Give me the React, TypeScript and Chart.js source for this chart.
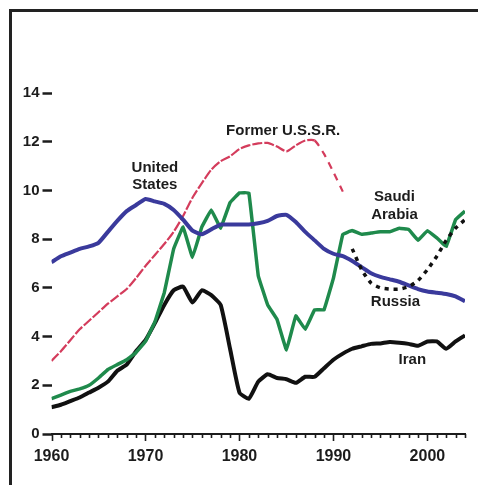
import React, { useEffect, useRef } from 'react';
import { Chart, registerables } from 'chart.js';

Chart.register(...registerables);

// ---- data ----
const years = [
  1960, 1961, 1962, 1963, 1964, 1965, 1966, 1967, 1968, 1969,
  1970, 1971, 1972, 1973, 1974, 1975, 1976, 1977, 1978, 1979,
  1980, 1981, 1982, 1983, 1984, 1985, 1986, 1987, 1988, 1989,
  1990, 1991, 1992, 1993, 1994, 1995, 1996, 1997, 1998, 1999,
  2000, 2001, 2002, 2003, 2004,
];

const unitedStates = [
  7.05, 7.3, 7.45, 7.6, 7.7, 7.85, 8.3, 8.75, 9.15, 9.4,
  9.65, 9.55, 9.45, 9.2, 8.8, 8.35, 8.2, 8.4, 8.6, 8.6,
  8.6, 8.6, 8.65, 8.75, 8.95, 9.0, 8.7, 8.3, 7.95, 7.6,
  7.4, 7.3, 7.1, 6.85, 6.6, 6.45, 6.35, 6.25, 6.1, 5.95,
  5.85, 5.8, 5.75, 5.65, 5.45,
];

// 1960-1991
const formerUSSR = [
  3.0, 3.4, 3.85, 4.3, 4.65, 5.0, 5.35, 5.65, 5.95, 6.4,
  6.9, 7.35, 7.8, 8.3, 8.95, 9.7, 10.3, 10.85, 11.2, 11.4,
  11.7, 11.85, 11.93, 11.95, 11.8, 11.6, 11.85, 12.05, 12.05, 11.5,
  10.75, 9.95,
];

const saudiArabia = [
  1.45, 1.6, 1.75, 1.85, 2.0, 2.3, 2.65, 2.85, 3.05, 3.35,
  3.8, 4.6, 5.8, 7.6, 8.5, 7.25, 8.5, 9.2, 8.45, 9.5,
  9.9, 9.9, 6.5, 5.3, 4.7, 3.45, 4.85, 4.3, 5.1, 5.1,
  6.4, 8.2, 8.35, 8.2, 8.25, 8.3, 8.3, 8.45, 8.4, 7.95,
  8.35, 8.05, 7.7, 8.8, 9.15,
];

const iran = [
  1.1, 1.2, 1.35, 1.5, 1.7, 1.9, 2.15, 2.6, 2.85, 3.4,
  3.85, 4.55, 5.3, 5.9, 6.05, 5.4, 5.9, 5.7, 5.3, 3.5,
  1.7, 1.45, 2.15, 2.45, 2.3, 2.25, 2.1, 2.35, 2.35, 2.7,
  3.05, 3.3, 3.5, 3.6, 3.7, 3.72, 3.78, 3.75, 3.7, 3.62,
  3.8, 3.8, 3.5, 3.8, 4.05,
];

const russiaYears = [1992, 1993, 1994, 1995, 1996, 1997, 1998, 1999, 2000, 2001, 2002, 2003, 2004];
const russia = [7.6, 6.75, 6.2, 6.0, 5.95, 5.95, 6.05, 6.3, 6.75, 7.3, 7.95, 8.45, 8.8];

const yTickValues = [0, 2, 4, 6, 8, 10, 12, 14];
const xTickLabels = [1960, 1970, 1980, 1990, 2000];

// series labels, placed in data coordinates [year, value]
const labelTexts = ['Former U.S.S.R.', 'United', 'States', 'Saudi', 'Arabia', 'Russia', 'Iran'];
const labelYears = [1984.65, 1971.0, 1971.0, 1996.5, 1996.5, 1996.6, 1998.4];
const labelValues = [12.45, 10.92, 10.22, 9.73, 8.99, 5.43, 3.04];

const FONT = "'Liberation Sans', Arial, Helvetica, sans-serif";
const INK = '#1c1c1c';

const pts = (xs: number[], ys: number[]) => ys.map((v, i) => ({ x: xs[i], y: v }));

const framePlugin = {
  id: 'frameAndLabels',
  beforeDraw(chart: any) {
    const { ctx } = chart;
    ctx.save();
    ctx.fillStyle = '#ffffff';
    ctx.fillRect(0, 0, chart.width, chart.height);
    ctx.strokeStyle = '#222';
    ctx.lineWidth = 3;
    ctx.beginPath();
    ctx.moveTo(10.5, chart.height);
    ctx.lineTo(10.5, 10.5);
    ctx.lineTo(chart.width, 10.5);
    ctx.stroke();
    ctx.restore();
  },
  afterDraw(chart: any) {
    const { ctx } = chart;
    const xs = chart.scales.x;
    const ys = chart.scales.y;
    const bottom = chart.chartArea.bottom;
    ctx.save();
    // x tick marks
    ctx.strokeStyle = INK;
    ctx.lineWidth = 1.6;
    for (const t of xs.ticks) {
      const px = Math.round(xs.getPixelForValue(t.value)) + 0.5;
      const major = xTickLabels.includes(t.value);
      ctx.beginPath();
      ctx.moveTo(px, bottom);
      ctx.lineTo(px, bottom + (major ? 7 : 4));
      ctx.stroke();
    }
    // series labels
    ctx.fillStyle = INK;
    ctx.font = `bold 15px ${FONT}`;
    ctx.textAlign = 'center';
    ctx.textBaseline = 'middle';
    labelTexts.forEach((txt, i) => {
      ctx.fillText(txt, xs.getPixelForValue(labelYears[i]), ys.getPixelForValue(labelValues[i]));
    });
    ctx.restore();
  },
};

export default function App() {
  const ref = useRef<HTMLCanvasElement | null>(null);

  useEffect(() => {
    if (!ref.current) return;
    const chart = new Chart(ref.current, {
      type: 'line',
      data: {
        datasets: [
          {
            label: 'Russia',
            data: pts(russiaYears, russia),
            borderColor: '#111111',
            borderWidth: 3.5,
            borderDash: [4, 5],
            pointRadius: 0,
            tension: 0.2,
          },
          {
            label: 'United States',
            data: pts(years, unitedStates),
            borderColor: '#3a3a9c',
            borderWidth: 4,
            pointRadius: 0,
            tension: 0.15,
          },
          {
            label: 'Former U.S.S.R.',
            data: pts(years, formerUSSR),
            borderColor: '#d43c5c',
            borderWidth: 2.2,
            pointRadius: 0,
            tension: 0.2,
            segment: {
              borderDash: (c: any) => (c.p0.parsed.x >= 1988 ? [7, 6] : [10, 2]),
            },
          },
          {
            label: 'Saudi Arabia',
            data: pts(years, saudiArabia),
            borderColor: '#1f8a4c',
            borderWidth: 3.5,
            pointRadius: 0,
            tension: 0.05,
          },
          {
            label: 'Iran',
            data: pts(years, iran),
            borderColor: '#111111',
            borderWidth: 4,
            pointRadius: 0,
            tension: 0.15,
          },
        ],
      },
      options: {
        animation: false,
        responsive: false,
        devicePixelRatio: 1,
        layout: { padding: { left: 0, right: 13, top: 93, bottom: 0 } },
        plugins: { legend: { display: false }, tooltip: { enabled: false } },
        scales: {
          x: {
            type: 'linear',
            min: 1960,
            max: 2004,
            grid: { display: false, drawTicks: false },
            border: { display: true, color: INK, width: 2 },
            ticks: {
              stepSize: 1,
              autoSkip: false,
              maxRotation: 0,
              padding: 13,
              color: INK,
              font: { family: FONT, size: 16, weight: 'bold' },
              callback: (v: any) => (xTickLabels.includes(Number(v)) ? String(v) : ''),
            },
            afterFit: (s: any) => {
              s.height = 51;
            },
          },
          y: {
            type: 'linear',
            min: 0,
            max: 14,
            border: { display: false },
            grid: {
              drawOnChartArea: false,
              drawTicks: true,
              tickLength: 9,
              tickWidth: 2.5,
              tickColor: INK,
            },
            afterBuildTicks: (s: any) => {
              s.ticks = yTickValues.map((v) => ({ value: v }));
            },
            ticks: {
              padding: 3,
              color: INK,
              font: { family: FONT, size: 15, weight: 'bold' },
              callback: (v: any) => String(v),
            },
            afterFit: (s: any) => {
              s.width = 51.5;
            },
          },
        },
      },
      plugins: [framePlugin],
    });
    return () => chart.destroy();
  }, []);

  return (
    <div style={{ position: 'fixed', left: 0, top: 0, width: 478, height: 485, background: '#fff' }}>
      <canvas ref={ref} width={478} height={485} style={{ display: 'block' }} />
    </div>
  );
}
